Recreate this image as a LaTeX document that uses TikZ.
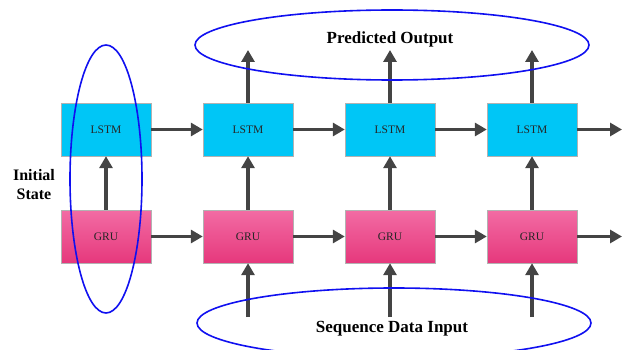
\documentclass[tikz,border=0pt]{standalone}
\usepackage{fontspec}
\setmainfont{Liberation Serif}
\usetikzlibrary{arrows.meta, shapes.geometric}
\definecolor{lstmcyan}{HTML}{00C6F6}
\definecolor{grupink}{HTML}{F26CA4}
\definecolor{grudeep}{HTML}{E6387C}
\definecolor{arrowgray}{HTML}{444444}
\definecolor{ringblue}{HTML}{1010F0}

\tikzset{
  cell/.style={rectangle, minimum width=90pt, minimum height=53pt, draw=gray!60, text=black!85, font=\fontsize{11.5}{13}\selectfont},
  lstm/.style={cell, fill=lstmcyan},
  gru/.style={cell, top color=grupink, bottom color=grudeep},
  flow/.style={draw=arrowgray, line width=3.5pt, -{Triangle[length=12pt,width=13pt]}},
  ring/.style={ellipse, draw=ringblue, line width=1.6pt},
  caption/.style={font=\fontsize{17}{19}\selectfont\bfseries}
}

\begin{document}
\begin{tikzpicture}[x=1pt, y=-1pt]
\useasboundingbox (0,0) rectangle (629,350);

% cells of the two layers
\foreach \i/\x in {1/106, 2/248, 3/390, 4/532} {
  \node[lstm] (lstm\i) at (\x,129.5) {LSTM};
  \node[gru] (gru\i) at (\x,236.5) {GRU};
  \coordinate (out\i) at (\x,50);
  \coordinate (in\i) at (\x,317);
}
\coordinate (lstmend) at (622,129.5);
\coordinate (gruend) at (622,236.5);

% connections along the sequence
\foreach \i/\j in {1/2, 2/3, 3/4} {
  \draw[flow] (lstm\i) -- (lstm\j);
  \draw[flow] (gru\i) -- (gru\j);
}
\draw[flow] (lstm4) -- (lstmend);
\draw[flow] (gru4) -- (gruend);

% GRU feeds LSTM
\foreach \i in {1,...,4}
  \draw[flow] (gru\i) -- (lstm\i);

% outputs and inputs
\foreach \i in {2,3,4} {
  \draw[flow] (lstm\i) -- (out\i);
  \draw[flow] (in\i) -- (gru\i);
}

% highlighted groups
\node[ring, minimum width=394pt, minimum height=70pt] (outring) at (392,45) {};
\node[ring, minimum width=394pt, minimum height=70pt] (inring) at (394,323) {};
\node[ring, minimum width=72pt, minimum height=268pt] (initring) at (106,179) {};

% labels
\node[caption] (predicted) at (390,39) {Predicted Output};
\node[caption] (sequence) at (392,329) {Sequence Data Input};
\node[caption, font=\fontsize{16}{19}\selectfont\bfseries, align=center] (initial) at (34,185) {Initial\\State};
\end{tikzpicture}
\end{document}
